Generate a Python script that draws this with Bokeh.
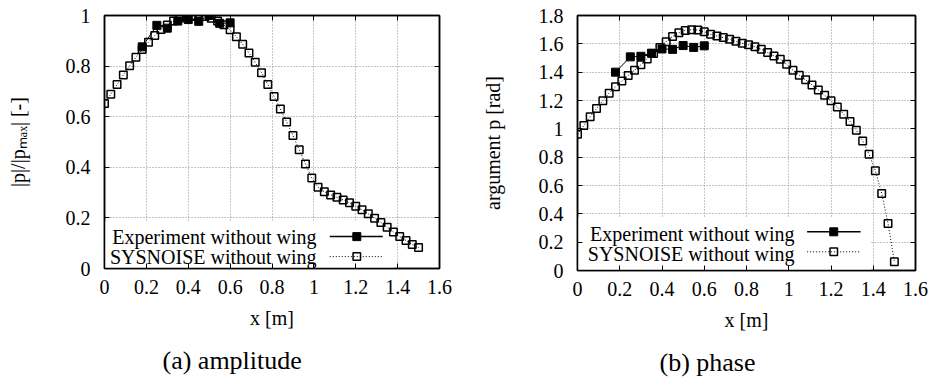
from bokeh.plotting import figure
from bokeh.models import LinearAxis, FixedTicker, Label, BoxAnnotation, Range1d
from bokeh.layouts import row
from bokeh.embed import file_html
from bokeh.resources import INLINE

FONT = "Liberation Serif"

# ---------------- data ----------------
x_sim = [0.00, 0.03, 0.06, 0.09, 0.12, 0.15, 0.18, 0.21, 0.24, 0.27,
         0.30, 0.33, 0.36, 0.39, 0.42, 0.45, 0.48, 0.51, 0.54, 0.57,
         0.60, 0.63, 0.66, 0.69, 0.72, 0.75, 0.78, 0.81, 0.84, 0.87,
         0.90, 0.93, 0.96, 0.99, 1.02, 1.05, 1.08, 1.11, 1.14, 1.17,
         1.20, 1.23, 1.26, 1.29, 1.32, 1.35, 1.38, 1.41, 1.44, 1.47, 1.50]
amp_sim = [0.652, 0.689, 0.727, 0.765, 0.801, 0.835, 0.866, 0.894, 0.921, 0.945,
           0.962, 0.978, 0.990, 0.998, 1.000, 0.999, 0.996, 0.989, 0.978, 0.963,
           0.944, 0.916, 0.886, 0.852, 0.815, 0.774, 0.727, 0.680, 0.630, 0.579,
           0.526, 0.469, 0.413, 0.358, 0.321, 0.303, 0.291, 0.282, 0.271, 0.260,
           0.246, 0.232, 0.216, 0.199, 0.182, 0.163, 0.144, 0.126, 0.111, 0.095, 0.083]
phase_sim = [0.962, 1.023, 1.086, 1.143, 1.199, 1.252, 1.297, 1.337, 1.376, 1.413,
             1.452, 1.493, 1.532, 1.575, 1.615, 1.652, 1.678, 1.695, 1.700, 1.697,
             1.686, 1.668, 1.656, 1.644, 1.632, 1.618, 1.604, 1.593, 1.579, 1.562,
             1.538, 1.515, 1.491, 1.456, 1.414, 1.378, 1.346, 1.310, 1.275, 1.237,
             1.198, 1.155, 1.103, 1.052, 0.990, 0.915, 0.821, 0.704, 0.543, 0.332, 0.061]

x_exp = [0.18, 0.25, 0.30, 0.35, 0.40, 0.45, 0.50, 0.55, 0.60]
amp_exp = [0.876, 0.961, 0.950, 0.978, 0.984, 0.977, 1.000, 0.969, 0.971]
phase_exp = [1.400, 1.508, 1.512, 1.534, 1.564, 1.561, 1.588, 1.575, 1.586]

x_ticks = [0, 0.2, 0.4, 0.6, 0.8, 1, 1.2, 1.4, 1.6]
x_tick_labels = ["0", "0.2", "0.4", "0.6", "0.8", "1", "1.2", "1.4", "1.6"]
amp_ticks = [0, 0.2, 0.4, 0.6, 0.8, 1]
amp_tick_labels = ["0", "0.2", "0.4", "0.6", "0.8", "1"]
phase_ticks = [0, 0.2, 0.4, 0.6, 0.8, 1, 1.2, 1.4, 1.6, 1.8]
phase_tick_labels = ["0", "0.2", "0.4", "0.6", "0.8", "1", "1.2", "1.4", "1.6", "1.8"]

series_names = ["Experiment without wing", "SYSNOISE without wing"]
x_title = "x [m]"
amp_title = "|p|/|p\u2098\u2090\u2093| [-]"
phase_title = "argument p [rad]"
captions = ["(a) amplitude", "(b) phase"]

# ---------------- layout helpers ----------------
GEOM_A = dict(fw=335, fh=253, l=104, r=27, t=15, b=106, ylab_standoff=34,
              cap_offset=58,
              leg_text_x=1.013, leg_rows=(0.125, 0.046), leg_samp=(0.126, 0.047),
              samp_x=(1.076, 1.329), samp_m=1.205, box=(1.385, 0.186))
GEOM_B = dict(fw=338, fh=255, l=111, r=17, t=13, b=106, ylab_standoff=32,
              cap_offset=82,
              leg_text_x=1.027, leg_rows=(0.256, 0.115), leg_samp=(0.273, 0.132),
              samp_x=(1.087, 1.340), samp_m=1.213, box=(1.39, 0.374))


def style_axis(ax, ticks, labels, show_labels=True):
    ax.ticker = FixedTicker(ticks=ticks)
    ax.major_tick_in = 5
    ax.major_tick_out = 0
    ax.minor_tick_line_color = None
    ax.major_tick_line_color = "black"
    ax.major_tick_line_width = 1
    ax.axis_line_color = "black"
    ax.axis_line_width = 1.5
    if show_labels:
        ax.major_label_overrides = dict(zip(ticks, labels))
        ax.major_label_text_font = FONT
        ax.major_label_text_font_size = "20px"
        ax.major_label_text_color = "black"
    else:
        ax.major_label_text_font_size = "1px"
        ax.major_label_text_color = None
        ax.major_label_standoff = 0


def panel(y_sim, y_exp, y_ticks, y_tick_labels, y_title, caption, g):
    y_max = y_ticks[-1]
    p = figure(x_range=Range1d(0, 1.6), y_range=Range1d(0, y_max),
               frame_width=g["fw"], frame_height=g["fh"],
               width=g["l"] + g["fw"] + g["r"], height=g["t"] + g["fh"] + g["b"],
               min_border_left=g["l"], min_border_right=g["r"],
               min_border_top=g["t"], min_border_bottom=g["b"],
               output_backend="svg", toolbar_location=None,
               background_fill_color="white", border_fill_color="white",
               title=caption, title_location="below")
    p.outline_line_color = "black"
    p.outline_line_width = 1.5

    p.title.align = "left"
    p.title.offset = g["cap_offset"]
    p.title.text_font = FONT
    p.title.text_font_size = "26px"
    p.title.text_font_style = "normal"
    p.title.text_color = "black"
    p.title.standoff = 24

    style_axis(p.xaxis[0], x_ticks, x_tick_labels)
    style_axis(p.yaxis[0], y_ticks, y_tick_labels)
    p.xaxis.major_label_standoff = 11
    p.yaxis.major_label_standoff = 14
    p.xaxis.axis_label = x_title
    p.yaxis.axis_label = y_title
    for ax in (p.xaxis[0], p.yaxis[0]):
        ax.axis_label_text_font = FONT
        ax.axis_label_text_font_size = "20px"
        ax.axis_label_text_font_style = "normal"
        ax.axis_label_text_color = "black"
    p.xaxis.axis_label_standoff = 10
    p.yaxis.axis_label_standoff = g["ylab_standoff"]

    top = LinearAxis()
    style_axis(top, x_ticks, x_tick_labels, show_labels=False)
    p.add_layout(top, "above")
    right = LinearAxis()
    style_axis(right, y_ticks, y_tick_labels, show_labels=False)
    p.add_layout(right, "right")

    p.xgrid.ticker = FixedTicker(ticks=x_ticks)
    p.ygrid.ticker = FixedTicker(ticks=y_ticks)
    p.grid.grid_line_color = "#8c8c8c"
    p.grid.grid_line_dash = "1 2"
    p.grid.grid_line_width = 1
    p.grid.level = "image"

    # opaque key box
    bx, by = g["box"]
    p.add_layout(BoxAnnotation(left=0, right=bx, bottom=0, top=by,
                               fill_color="white", fill_alpha=1.0,
                               line_color=None, level="underlay"))

    # data
    p.line(x_sim, y_sim, line_color="black", line_width=1, line_dash="1 2")
    p.scatter(x_sim, y_sim, marker="square", size=7.5, fill_color=None,
              line_color="black", line_width=1.5)
    p.line(x_exp, y_exp, line_color="black", line_width=1)
    p.scatter(x_exp, y_exp, marker="square", size=8, fill_color="black",
              line_color="black", line_width=1)

    # key (gnuplot style: text then sample)
    sx0, sx1 = g["samp_x"]
    for i, name in enumerate(series_names):
        p.add_layout(Label(x=g["leg_text_x"], y=g["leg_rows"][i], text=name,
                           text_align="right", text_baseline="alphabetic",
                           text_font=FONT, text_font_size="20px", text_color="black"))
        ys = g["leg_samp"][i]
        if i == 0:
            p.line([sx0, sx1], [ys, ys], line_color="black", line_width=1.5)
            p.scatter([g["samp_m"]], [ys], marker="square", size=8,
                      fill_color="black", line_color="black")
        else:
            p.line([sx0, sx1], [ys, ys], line_color="black", line_width=1,
                   line_dash="1 2")
            p.scatter([g["samp_m"]], [ys], marker="square", size=7.5,
                      fill_color=None, line_color="black", line_width=1.5)
    return p


p1 = panel(amp_sim, amp_exp, amp_ticks, amp_tick_labels, amp_title, captions[0], GEOM_A)
p2 = panel(phase_sim, phase_exp, phase_ticks, phase_tick_labels, phase_title, captions[1], GEOM_B)

layout = row(p1, p2)
open("out.html", "w").write(file_html(layout, INLINE))
